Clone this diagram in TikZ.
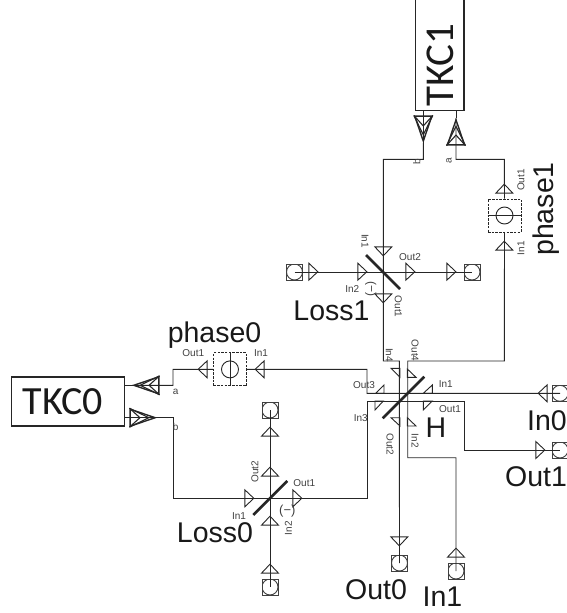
\documentclass[tikz,border=0pt]{standalone}
\usepackage{fontspec}
\setmainfont{Liberation Sans}
\newfontfamily\tkcfont{Carlito}
\usetikzlibrary{shapes.geometric,calc}
\tikzset{
	wire/.style={line width=0.9pt,draw=black!85},
	porttri/.style={draw=black!85,line width=0.9pt,isosceles triangle,isosceles triangle stretches,
		minimum height=9pt,minimum width=17pt,inner sep=0pt,anchor=apex},
	chevtri/.style={porttri,line width=1.4pt,minimum height=25pt},
	termbox/.style={draw=black!75,line width=0.7pt,minimum size=16pt,inner sep=0pt,
		path picture={\draw[line width=0.9pt] (path picture bounding box.center) circle (8pt);}},
	phasebox/.style={draw=black!85,line width=0.9pt,dashed,dash pattern=on 2.5pt off 1.2pt,minimum size=33pt,inner sep=0pt},
	phasering/.style={draw=black!85,circle,line width=0.9pt,minimum size=17pt,inner sep=0pt},
	tkcbox/.style={draw=black!85,line width=1.1pt,inner sep=0pt},
	mirror/.style={line width=2.6pt,black!85},
	halftri/.style={line width=0.9pt,draw=black!85},
	small/.style={font=\fontsize{10}{10}\selectfont,text=black!75,inner sep=0pt},
	big/.style={font=\fontsize{28.5}{28.5}\selectfont,text=black!90,inner sep=0pt},
}
\newcommand{\chevlines}[1]{
	\draw[line width=1.1pt,black!85] (#1.left corner) -- ($(#1.apex)!.62!(#1.lower side)$) -- (#1.right corner);
	\draw[line width=1.1pt,black!85] (#1.left corner) -- ($(#1.apex)!.3!(#1.lower side)$) -- (#1.right corner);
}
\begin{document}
\begin{tikzpicture}[x=1pt,y=-1pt]
	\useasboundingbox (0,0) rectangle (566,613);
	% boxes
	\node[tkcbox,minimum width=113pt,minimum height=49pt] (tkczero) at (68.3,401.5) {};
	\node[tkcbox,minimum width=48.3pt,minimum height=120pt] (tkcone) at (439.85,50.7) {};
	\node[font=\tkcfont\fontsize{40}{40}\selectfont,text=black!90,inner sep=0pt] (tkczerotxt) at (63,402) {TKC0};
	\node[font=\tkcfont\fontsize{41}{41}\selectfont,text=black!90,inner sep=0pt,rotate=90] (tkconetxt) at (440,65) {TKC1};

	% junctions
	\coordinate (losone) at (383.3,271.7);
	\coordinate (loszero) at (270,498.3);
	\coordinate (tkconeB) at (423.3,110.7);
	\coordinate (tkconeA) at (456,110.7);
	\coordinate (tkczeroA) at (125,385.3);
	\coordinate (tkczeroB) at (125,417.7);
	\coordinate (cornerB) at (383.3,159.3);
	\coordinate (cornerA) at (504.3,159.3);
	\coordinate (cornerL) at (383.3,361);
	\coordinate (hleft) at (399.3,361);
	\coordinate (hright) at (407.7,361);
	\coordinate (cornerR) at (504.3,361);
	\coordinate (cornerZa) at (173,369.3);
	\coordinate (cornerZc) at (173,498.3);
	\coordinate (inthree) at (367,369.3);
	\coordinate (hout) at (367,393.3);
	\coordinate (hin) at (367,401.3);
	\coordinate (cornerZb) at (367,498.3);
	\coordinate (outbend) at (464.3,401.3);
	\coordinate (inbend) at (407.7,457.7);

	% terminals
	\node[termbox] (termlosl) at (294.5,272) {};
	\node[termbox] (termlosr) at (472,272) {};
	\node[termbox] (termlzt) at (270,410) {};
	\node[termbox] (termlzb) at (270,587) {};
	\node[termbox] (termoutz) at (399.5,563) {};
	\node[termbox] (terminone) at (456,571) {};
	\node[termbox] (terminz) at (560,393.3) {};
	\node[termbox] (termoutone) at (560,450) {};

	% phase shifters
	\node[phasebox] (phone) at (504.5,215.5) {};
	\node[phasering] (phonering) at (504.5,215.5) {};
	\node[phasebox] (phzero) at (230,369.4) {};
	\node[phasering] (phzeroring) at (230,369.4) {};

	% triangles
	\node[porttri,rotate=-90] (losonein) at (383.3,257) {};
	\node[porttri,rotate=-90] (losoneout) at (383.3,304) {};
	\node[porttri] (losoneintwo) at (368,271.7) {};
	\node[porttri] (losoneouttwo) at (416,271.7) {};
	\node[porttri] (termlosltri) at (319,271.7) {};
	\node[porttri] (termlosrtri) at (457,271.7) {};
	\node[porttri,rotate=90] (phoneout) at (504.3,183) {};
	\node[porttri,rotate=90] (phonein) at (504.3,240) {};
	\node[porttri,rotate=180] (phzeroin) at (254,369.3) {};
	\node[porttri,rotate=180] (phzeroout) at (197,369.3) {};
	\node[porttri] (loszeroin) at (255,498.3) {};
	\node[porttri] (loszeroout) at (303,498.3) {};
	\node[porttri,rotate=90] (loszerotwo) at (270,466) {};
	\node[porttri,rotate=90] (loszeroint) at (270,515) {};
	\node[porttri,rotate=90] (termlzttri) at (270,426) {};
	\node[porttri,rotate=90] (termlzbtri) at (270,563) {};
	\node[porttri,rotate=-90] (termoutztri) at (399.3,547) {};
	\node[porttri,rotate=90] (terminonetri) at (456,547) {};
	\node[porttri,rotate=180] (terminztri) at (537,393.3) {};
	\node[porttri] (termoutonetri) at (546,450) {};

	% double ports
	\node[chevtri,rotate=-90] (chevb) at (423.3,143) {};
	\node[chevtri,rotate=90] (cheva) at (456,118) {};
	\node[chevtri,rotate=180] (chevza) at (132,385.3) {};
	\node[chevtri] (chevzb) at (157,417.7) {};
	\chevlines{chevb}
	\chevlines{cheva}
	\chevlines{chevza}
	\chevlines{chevzb}

	% half triangles round H
	\draw[halftri] (391,368.3) -- (400,368.3) -- (400,377.3) -- cycle;
	\draw[halftri] (407.3,369) -- (407.3,377.3) -- (416,377.3) -- cycle;
	\draw[halftri] (384,385) -- (384,393.3) -- (375.7,393.3) -- cycle;
	\draw[halftri] (432.3,385) -- (432.3,393.3) -- (423.3,393.3) -- cycle;
	\draw[halftri] (375,401) -- (383.3,401) -- (375,410) -- cycle;
	\draw[halftri] (423.3,401) -- (432.3,401) -- (423.3,410) -- cycle;
	\draw[halftri] (391,417.7) -- (400,417.7) -- (400,426) -- cycle;
	\draw[halftri] (407.3,417.7) -- (416,426) -- (407.3,426) -- cycle;

	% wires
	\draw[wire] (tkconeB) -- (chevb.apex);
	\draw[wire] (chevb.apex) |- (cornerB) -- (losone) -- (cornerL) -- (hleft) -- (termoutz.center);
	\draw[wire] (tkconeA) -- (cheva.apex);
	\draw[wire] (cheva.apex) |- (cornerA) -- (phone.north);
	\draw[wire] (phone.south) -- (cornerR) -- (hright) -- (inbend) -| (terminone.center);
	\draw[wire] (tkczeroA) -- (chevza.apex);
	\draw[wire] (chevza.apex) -| (cornerZa) -- (phzero.west);
	\draw[wire] (phzero.east) -- (inthree) -- (hout) -- (terminz.center);
	\draw[wire] (tkczeroB) -- (chevzb.apex);
	\draw[wire] (chevzb.apex) -| (cornerZc) -- (cornerZb) -- (hin) -- (outbend) |- (termoutone.center);
	\draw[wire] (termlosl.center) -- (termlosr.center);
	\draw[wire] (termlzt.center) -- (termlzb.center);
	\draw[wire] (phone.west) -- (phone.east);
	\draw[wire] (phzero.north) -- (phzero.south);

	% beam splitters
	\draw[mirror] (366,255) -- (400,289);
	\draw[mirror] (253.3,515) -- (287.3,481);
	\draw[mirror] (382.7,418.3) -- (424.3,376.7);

	% small labels
	\node[small,rotate=-90] (lboneinl) at (365,241) {In1};
	\node[small] (lbonein2) at (352.3,289.3) {In2};
	\node[small] (lboneout2) at (410,257.3) {Out2};
	\node[small,rotate=-90] (lboneoutl) at (398.3,306.7) {Out1};
	\node[small,rotate=-90,font=\fontsize{12}{12}\selectfont] (lbonem) at (370.7,289) {(−)};
	\node[small,rotate=90] (lbzeroout2) at (255,471.7) {Out2};
	\node[small] (lbzerooutl) at (304.3,483.3) {Out1};
	\node[small] (lbzeroinl) at (239,515.7) {In1};
	\node[small,rotate=90] (lbzeroin2) at (288.3,528.3) {In2};
	\node[small,font=\fontsize{13}{13}\selectfont] (lbzerom) at (287.3,510.7) {(−)};
	\node[small] (lbhinl) at (445.7,384.3) {In1};
	\node[small] (lbhoutl) at (450,409.3) {Out1};
	\node[small] (lbhout3) at (364,385) {Out3};
	\node[small] (lbhin3) at (360.7,417.7) {In3};
	\node[small,rotate=-90] (lbhin4) at (389.3,355) {In4};
	\node[small,rotate=-90] (lbhout4) at (415,350.7) {Out4};
	\node[small,rotate=-90] (lbhout2) at (390,444.3) {Out2};
	\node[small,rotate=-90] (lbhin2) at (415,440.7) {In2};
	\node[small] (lbphzout) at (193.3,353.3) {Out1};
	\node[small] (lbphzin) at (261,353.3) {In1};
	\node[small] (lbza) at (175.7,391.7) {a};
	\node[small] (lbzb) at (175.7,426.7) {b};
	\node[small,rotate=90] (lbphoout) at (521,180) {Out1};
	\node[small,rotate=90] (lbphoin) at (521,248.3) {In1};
	\node[small,rotate=90] (lboa) at (449,161) {a};
	\node[small,rotate=90] (lbob) at (416.7,161.7) {b};

	% big labels
	\node[big] (lblossone) at (331.5,311) {Loss1};
	\node[big] (lbloszero) at (215,533) {Loss0};
	\node[big] (lbphzero) at (214.5,335) {phase0};
	\node[big,rotate=90] (lbphone) at (546,209) {phase1};
	\node[big] (lbinz) at (547,421) {In0};
	\node[big] (lbh) at (436,428) {H};
	\node[big] (lboutone) at (536,477) {Out1};
	\node[big] (lboutz) at (376,590) {Out0};
	\node[big] (lbinone) at (442.5,597) {In1};
\end{tikzpicture}
\end{document}
